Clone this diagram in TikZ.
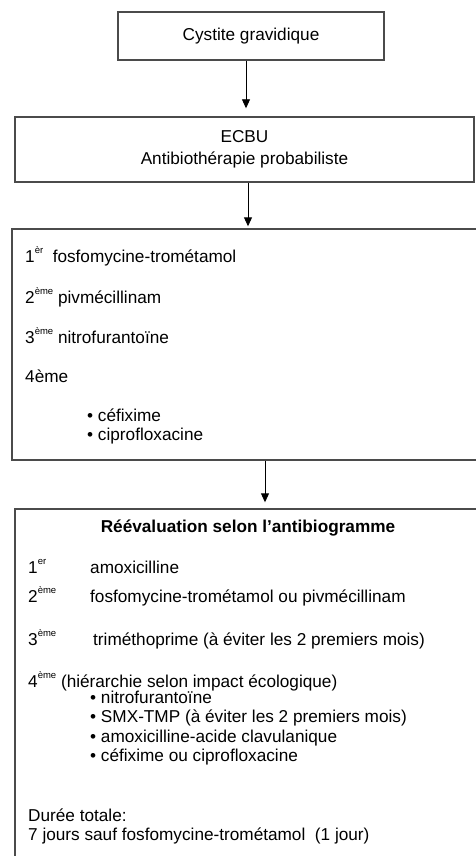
\documentclass[tikz,border=0pt]{standalone}
\usepackage{fontspec}
\setmainfont{Liberation Sans}
\usetikzlibrary{arrows.meta,positioning}
\definecolor{boxgray}{RGB}{75,75,75}
\newcommand{\rang}[1]{\raisebox{0.5em}{\fontsize{9.5}{10}\selectfont #1}}
\tikzset{
  flowbox/.style={draw=boxgray, line width=1.4pt, inner sep=0pt, align=center},
  flowarrow/.style={-{Triangle[length=9pt,width=8pt]}, line width=0.9pt, black, shorten >=2pt},
  itemtext/.style={anchor=base west, inner sep=0pt},
}
\begin{document}
\begin{tikzpicture}[x=1pt, y=-1pt, font=\fontsize{17.2}{22}\selectfont]
  \useasboundingbox (0,0) rectangle (475,856);

  %% boxes
  \node[flowbox, minimum width=266pt, minimum height=48pt] (cystite) at (251,36) {Cystite gravidique};
  \node[flowbox, minimum width=459pt, minimum height=65pt] (ecbu) at (244.5,149.5) {ECBU\\Antibiothérapie probabiliste};
  \node[flowbox, minimum width=468pt, minimum height=231pt] (proba) at (246,344.5) {};
  \node[flowbox, minimum width=465pt, minimum height=361pt] (reeval) at (247.5,689.5) {};

  %% arrows
  \coordinate (a1) at (246,0);
  \coordinate (a2) at (248,0);
  \coordinate (a3) at (265,0);
  \draw[flowarrow, shorten >=8pt] (cystite.south -| a1) -- (ecbu.north -| a1);
  \draw[flowarrow] (ecbu.south -| a2) -- (proba.north -| a2);
  \draw[flowarrow, shorten >=6pt] (proba.south -| a3) -- (reeval.north -| a3);

  %% probabilistic treatment
  \node[itemtext] (p1) at (25,262) {1\rang{èr} \ fosfomycine-trométamol};
  \node[itemtext] (p2) at (25,303) {2\rang{ème} pivmécillinam};
  \node[itemtext] (p3) at (25,343) {3\rang{ème} nitrofurantoïne};
  \node[itemtext] (p4) at (25,382) {4ème};
  \node[itemtext] (p5) at (87,421) {• céfixime};
  \node[itemtext] (p6) at (87,440) {• ciprofloxacine};

  %% reevaluation
  \node[anchor=base, inner sep=0pt, font=\fontsize{17.2}{22}\selectfont\bfseries] (rtitle) at (248,532) {Réévaluation selon l’antibiogramme};
  \node[itemtext] (r1) at (28,573) {1\rang{er}};
  \node[itemtext] (r1t) at (90,573) {amoxicilline};
  \node[itemtext] (r2) at (28,602) {2\rang{ème}};
  \node[itemtext] (r2t) at (90,602) {fosfomycine-trométamol ou pivmécillinam};
  \node[itemtext] (r3) at (28,645) {3\rang{ème}};
  \node[itemtext] (r3t) at (93,645) {triméthoprime (à éviter les 2 premiers mois)};
  \node[itemtext] (r4) at (28,687) {4\rang{ème} (hiérarchie selon impact écologique)};
  \node[itemtext] (r4a) at (90,703) {• nitrofurantoïne};
  \node[itemtext] (r4b) at (90,722) {• SMX-TMP (à éviter les 2 premiers mois)};
  \node[itemtext] (r4c) at (90,742) {• amoxicilline-acide clavulanique};
  \node[itemtext] (r4d) at (90,761) {• céfixime ou ciprofloxacine};
  \node[itemtext] (d1) at (28,821) {Durée totale:};
  \node[itemtext] (d2) at (28,840) {7 jours sauf fosfomycine-trométamol \ (1 jour)};
\end{tikzpicture}
\end{document}
